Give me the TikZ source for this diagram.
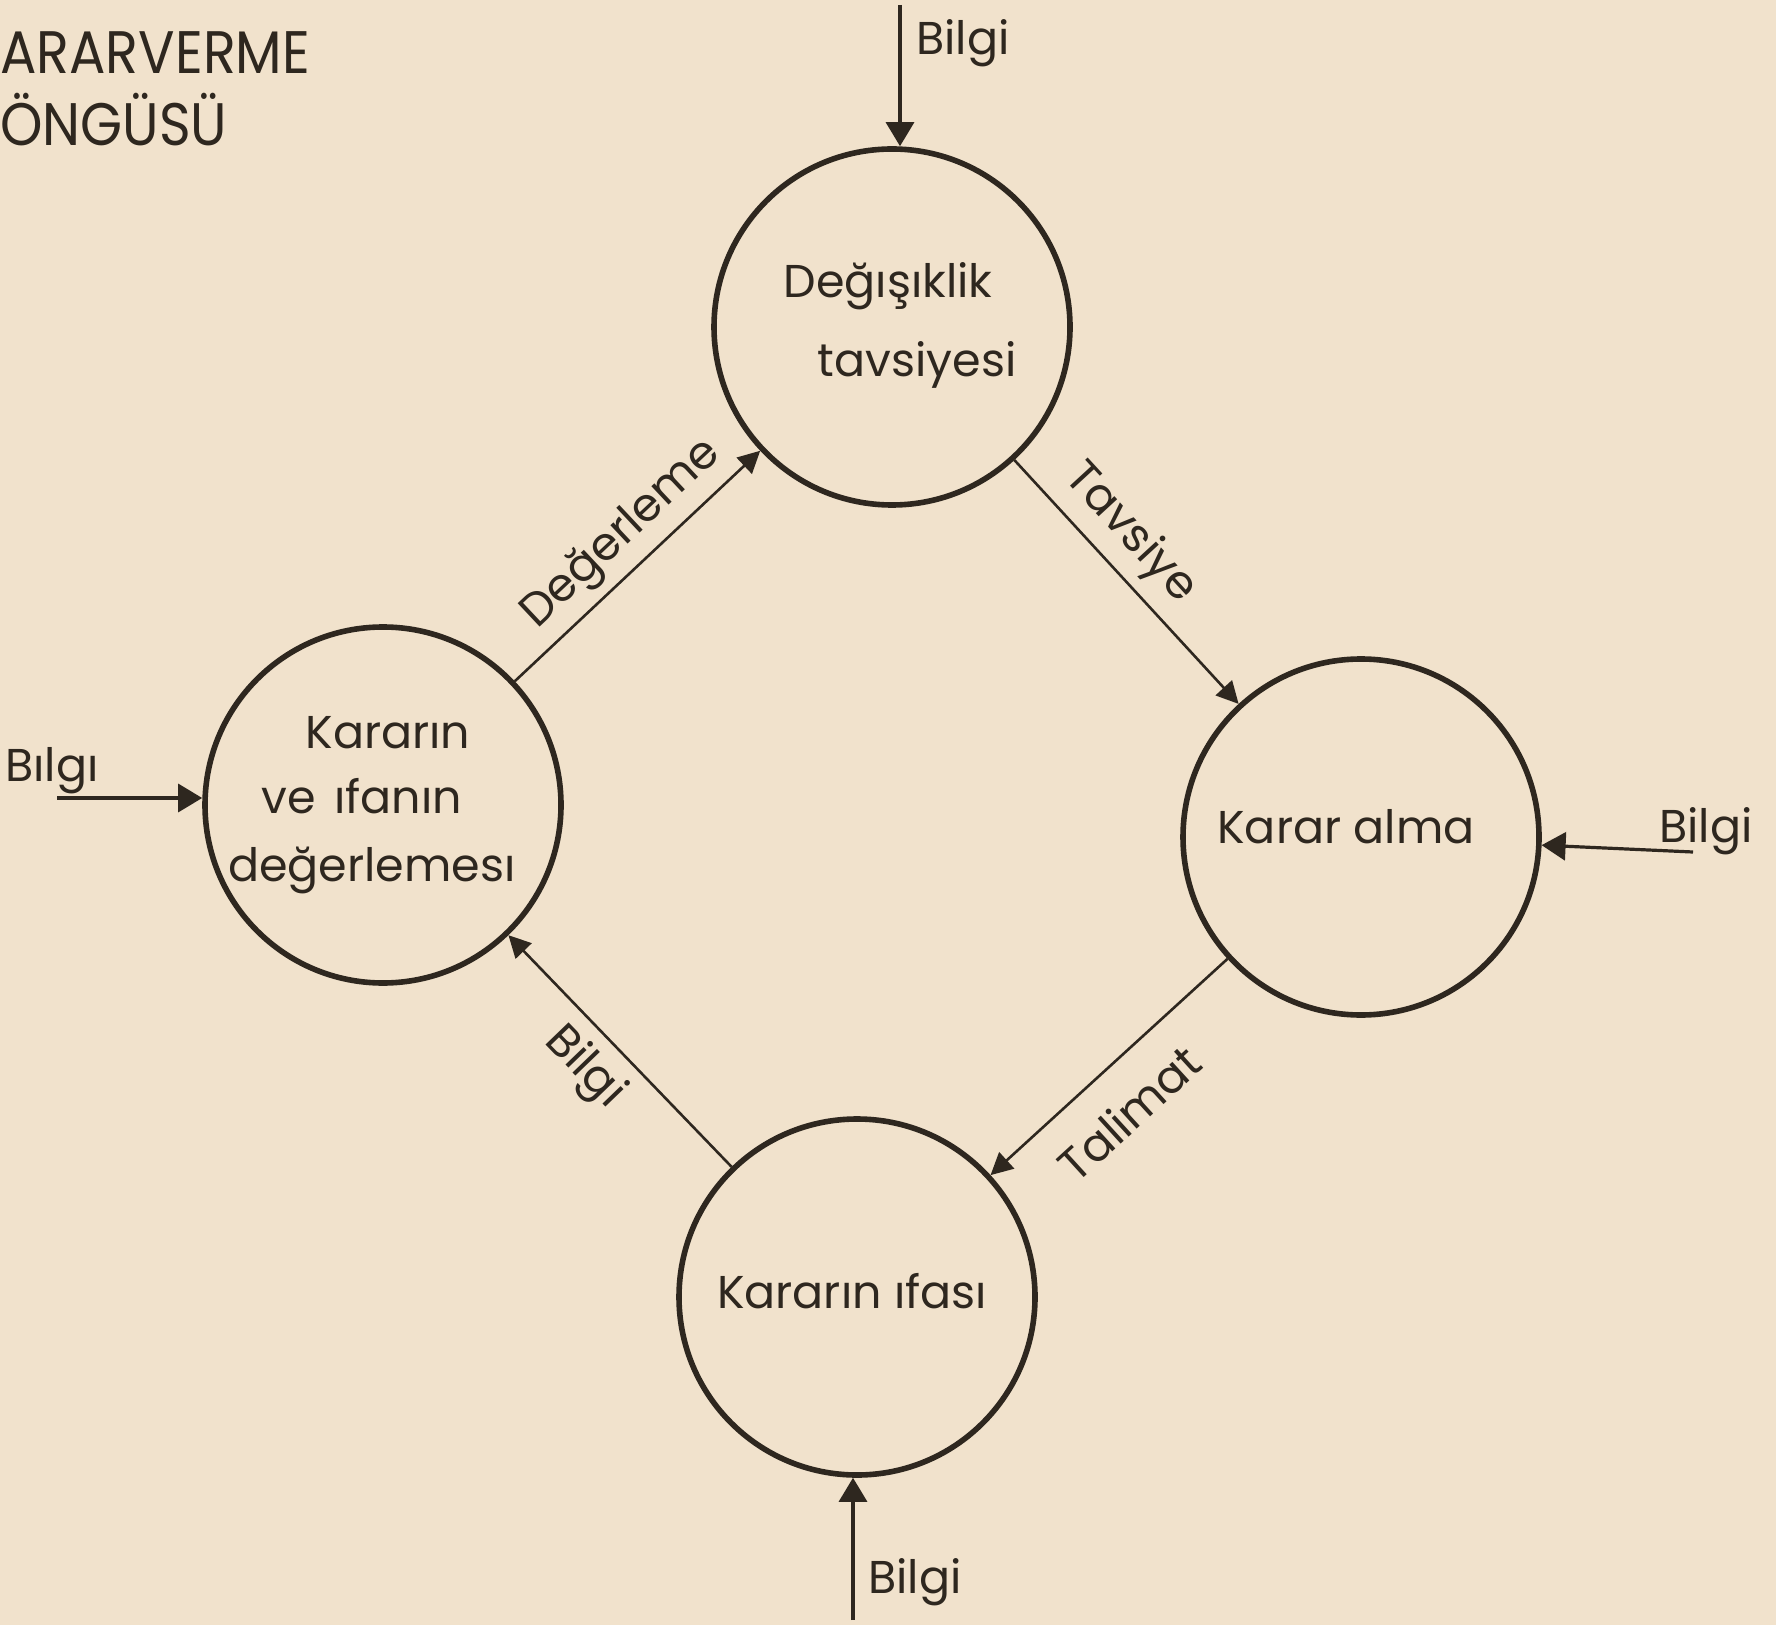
\documentclass[tikz,border=0pt]{standalone}
\usepackage{fontspec}
\setmainfont{Poppins}
\usetikzlibrary{arrows.meta}
\definecolor{paper}{RGB}{241,226,204}
\definecolor{inkc}{RGB}{46,39,31}
\begin{document}
\begin{tikzpicture}[x=0.5pt,y=-0.5pt,
  state/.style={circle, draw=inkc, line width=2.8pt, minimum size=178pt, inner sep=0pt},
  flow/.style={draw=inkc, line width=1.3pt, -{Triangle[length=11pt,width=11pt]}},
  feed/.style={draw=inkc, line width=1.6pt, -{Triangle[length=12pt,width=14pt]}},
  lbl/.style={font=\fontsize{23}{27}\selectfont, text=inkc},
  txt/.style={font=\fontsize{23}{27}\selectfont, text=inkc, inner sep=0pt, anchor=base},
  heading/.style={font=\fontsize{30}{34}\selectfont, text=inkc, inner sep=0pt, anchor=base west, xscale=0.9}
]
\fill[paper] (0,0) rectangle (1776,1625);
\useasboundingbox (0,0) rectangle (1776,1625);

% title
\node[heading] (h1) at (0,74) {ARARVERME};
\node[heading] (h2) at (0,146) {ÖNGÜSÜ};

% circles
\node[state] (T) at (892,327) {};
\node[state] (R) at (1361,837) {};
\node[state] (B) at (857,1297) {};
\node[state] (L) at (383,805) {};

% texts in circles
\node[txt] (t1) at (888,298) {Değışıklik};
\node[txt] (t2) at (917,377) {tavsiyesi};
\node[txt] (r1) at (1346,843) {Karar alma};
\node[txt] (b1) at (852,1308) {Kararın ıfası};
\node[txt] (l1) at (388,748) {Kararın};
\node[txt] (l2) at (362,813) {ve\hspace{0.4em}ıfanın};
\node[txt] (l3) at (372,881) {değerlemesı};

% cycle connectors
\draw[flow] (L) -- (T) node[lbl, sloped, above=1pt, pos=0.53] (c1) {Değerleme};
\draw[flow] (T) -- (R) node[lbl, sloped, above=2pt, pos=0.40] (c2) {Tavsiye};
\draw[flow] (R) -- (B) node[lbl, sloped, below=11pt, pos=0.55] (c3) {Talimat};
\draw[flow] (B) -- (L) node[lbl, sloped, below=3pt, pos=0.54] (c4) {Bilgi};

% incoming information
\coordinate (tin) at (900,5);
\coordinate (rin) at (1693,852);
\coordinate (bin) at (853,1620);
\coordinate (lin) at (57,798);
\draw[feed] (tin) -- (tin |- T.north);
\draw[feed] (rin) -- (R);
\draw[feed] (bin) -- (bin |- B.south);
\draw[feed] (lin) -- (lin -| L.west);

\node[txt] (i1) at (963,55) {Bilgi};
\node[txt] (i2) at (1706,842) {Bilgi};
\node[txt] (i3) at (915,1593) {Bilgi};
\node[txt] (i4) at (52,781) {Bılgı};
\end{tikzpicture}
\end{document}
